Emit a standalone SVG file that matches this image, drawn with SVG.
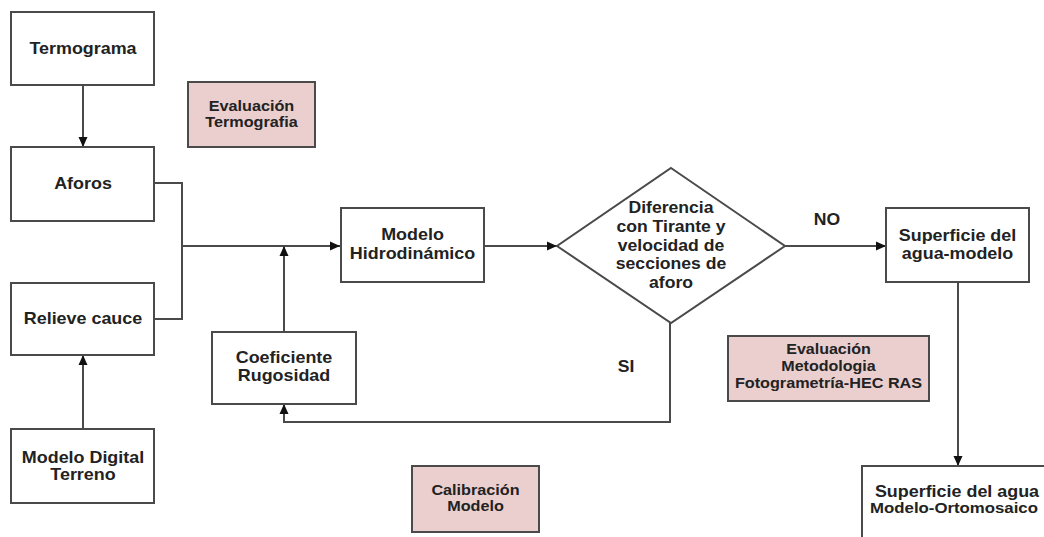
<svg xmlns="http://www.w3.org/2000/svg" width="1044" height="537" viewBox="0 0 1044 537">
<style>
.box{fill:#fff;stroke:#4a4a4a;stroke-width:2}
.pink{fill:#ebcfcf;stroke:#4a4a4a;stroke-width:2}
.c{fill:none;stroke:#4a4a4a;stroke-width:2}
.t{font-family:"Liberation Sans",Arial,sans-serif;font-weight:bold;font-size:16px;fill:#222;text-anchor:middle}
.p{font-size:15px}
</style>
<defs>
<marker id="ah" markerUnits="userSpaceOnUse" markerWidth="10" markerHeight="10" viewBox="0 0 10 10" refX="10" refY="5" orient="auto">
<path d="M0,0.5 L10,5 L0,9.5 Z" fill="#111"/>
</marker>
</defs>
<rect width="1044" height="537" fill="#fff"/>
<g id="connectors">
<path class="c" d="M83,85 V147" marker-end="url(#ah)"/>
<path class="c" d="M154,183 H182 V246 H340" marker-end="url(#ah)"/>
<path class="c" d="M154,319 H182 V246"/>
<path class="c" d="M83,429 V355" marker-end="url(#ah)"/>
<path class="c" d="M284,332 V246" marker-end="url(#ah)"/>
<path class="c" d="M484,246 H557" marker-end="url(#ah)"/>
<path class="c" d="M785,246 H886" marker-end="url(#ah)"/>
<path class="c" d="M670,323 V422 H284 V404" marker-end="url(#ah)"/>
<path class="c" d="M958,282 V466" marker-end="url(#ah)"/>
<text class="t" transform="translate(827,225) scale(1.1,1)">NO</text>
<text class="t" transform="translate(626,372) scale(1.1,1)">SI</text>
</g>
<g id="termograma">
<rect class="box" x="11" y="12" width="143" height="73"/>
<text class="t" transform="translate(83,54) scale(1.12,1)">Termograma</text>
</g>
<g id="eval-termografia">
<rect class="pink" x="188" y="82" width="127" height="65"/>
<text class="t p" transform="translate(251.5,111) scale(1.08,1)"><tspan x="0">Evaluación</tspan><tspan x="0" dy="16">Termografia</tspan></text>
</g>
<g id="aforos">
<rect class="box" x="11" y="147" width="143" height="74"/>
<text class="t" transform="translate(83,189) scale(1.12,1)">Aforos</text>
</g>
<g id="relieve">
<rect class="box" x="11" y="283" width="143" height="72"/>
<text class="t" transform="translate(83,324) scale(1.12,1)">Relieve cauce</text>
</g>
<g id="mdt">
<rect class="box" x="11" y="429" width="143" height="74"/>
<text class="t" transform="translate(83,463) scale(1.12,1)"><tspan x="0">Modelo Digital</tspan><tspan x="0" dy="17">Terreno</tspan></text>
</g>
<g id="coeficiente">
<rect class="box" x="212" y="332" width="144" height="72"/>
<text class="t" transform="translate(284,363) scale(1.12,1)"><tspan x="0">Coeficiente</tspan><tspan x="0" dy="18.5">Rugosidad</tspan></text>
</g>
<g id="modelo-hidro">
<rect class="box" x="341" y="208" width="143" height="74"/>
<text class="t" transform="translate(412.5,240) scale(1.12,1)"><tspan x="0">Modelo</tspan><tspan x="0" dy="19">Hidrodinámico</tspan></text>
</g>
<g id="diferencia">
<polygon class="box" points="671,168 785,246 671,323 557,246"/>
<text class="t" transform="translate(671,213) scale(1.1,1)"><tspan x="0">Diferencia</tspan><tspan x="0" dy="19">con Tirante y</tspan><tspan x="0" dy="19">velocidad de</tspan><tspan x="0" dy="18.5">secciones de</tspan><tspan x="0" dy="18.5">aforo</tspan></text>
</g>
<g id="superficie-modelo">
<rect class="box" x="886" y="208" width="143" height="74"/>
<text class="t" transform="translate(957.5,241) scale(1.12,1)"><tspan x="0">Superficie del</tspan><tspan x="0" dy="18.5">agua-modelo</tspan></text>
</g>
<g id="eval-metodologia">
<rect class="pink" x="728" y="336" width="201" height="65"/>
<text class="t p" transform="translate(828.5,354) scale(1.07,1)"><tspan x="0">Evaluación</tspan><tspan x="0" dy="17">Metodologia</tspan><tspan x="0" dy="17" textLength="175" lengthAdjust="spacingAndGlyphs">Fotogrametría-HEC RAS</tspan></text>
</g>
<g id="calibracion">
<rect class="pink" x="412" y="466" width="127" height="66"/>
<text class="t p" transform="translate(475.5,495) scale(1.08,1)"><tspan x="0">Calibración</tspan><tspan x="0" dy="16">Modelo</tspan></text>
</g>
<g id="superficie-orto">
<rect class="box" x="862" y="466" width="192" height="90"/>
<text class="t" transform="translate(957,497) scale(1.12,1)">Superficie del agua</text>
<text class="t p" transform="translate(954,513) scale(1.12,1)">Modelo-Ortomosaico</text>
</g>
</svg>
